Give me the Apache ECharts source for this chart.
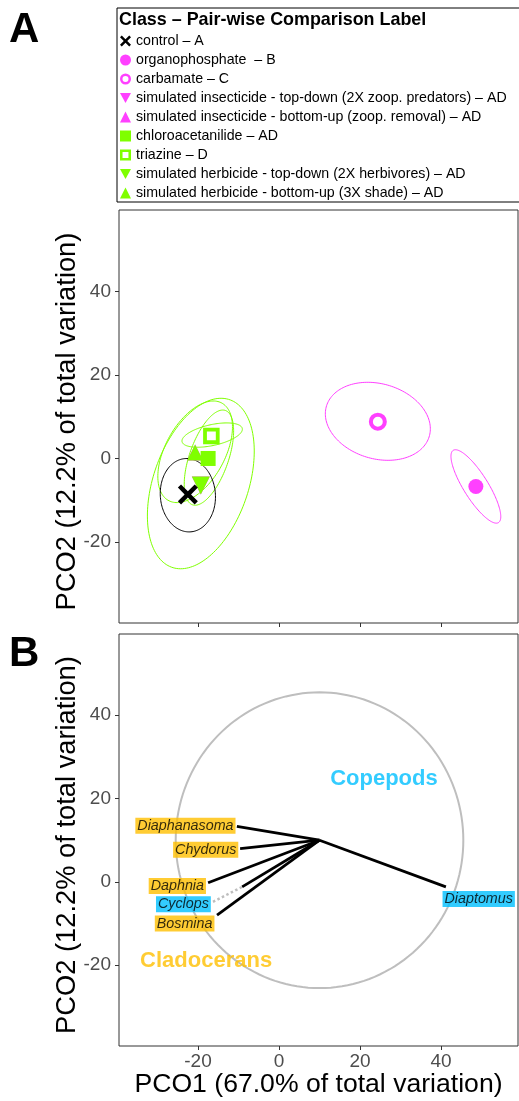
<!DOCTYPE html>
<html>
<head>
<meta charset="utf-8">
<script src="https://cdn.jsdelivr.net/npm/echarts@6/dist/echarts.min.js"></script>
<style>
html,body{margin:0;padding:0;background:#fff;}
#chart{width:519px;height:1101px;}
</style>
</head>
<body>
<div id="chart"></div>
<script>
// ---------- data ----------
const xTicks = [-20, 0, 20, 40];
const yTicks = [-20, 0, 20, 40];

const classes = [
  'control – A',
  'organophosphate  – B',
  'carbamate – C',
  'simulated insecticide - top-down (2X zoop. predators) – AD',
  'simulated insecticide - bottom-up (zoop. removal) – AD',
  'chloroacetanilide – AD',
  'triazine – D',
  'simulated herbicide - top-down (2X herbivores) – AD',
  'simulated herbicide - bottom-up (3X shade) – AD'
];
const centroidX = [-22.5, 48.6, 24.4, -19.3, -20.7, -17.5, -16.7, -19.3, -20.7];
const centroidY = [-8.6, -6.7, 8.8, -6.5, 1.4, 0.0, 5.4, -6.5, 1.4];

// confidence ellipses: class index, centre, semi-axes, rotation (deg)
const ellipseClass = [7, 8, 5, 6, 0, 2, 1];
const ellipseCX = [-19.3, -20.7, -17.3, -16.5, -22.5, 24.4, 48.6];
const ellipseCY = [-6.0, 1.6, 0.2, 5.6, -8.8, 8.9, -6.7];
const ellipseA = [21.3, 13.4, 12.0, 7.6, 8.8, 13.2, 10.3];
const ellipseB = [11.7, 7.3, 4.8, 2.5, 6.8, 9.0, 3.0];
const ellipseAngle = [70, 60, 70, 12, 95, -15, -57];

// panel B: species vectors
const species = ['Diaptomus', 'Diaphanasoma', 'Chydorus', 'Daphnia', 'Cyclops', 'Bosmina'];
const speciesGroup = ['Copepods', 'Cladocerans', 'Cladocerans', 'Cladocerans', 'Copepods', 'Cladocerans'];
const vectorOrigin = [10, 10];
const vectorX = [41.2, -10.4, -9.6, -17.5, -9.1, -15.3];
const vectorY = [-1.2, 13.3, 8.0, -0.2, -1.2, -8.0];
const labelX = [49.3, -23.1, -18.1, -25.1, -23.6, -23.3];
const labelY = [-4.1, 13.5, 7.7, -1.0, -5.4, -10.0];
const connectorFrom = [[-16.3, -4.8]];
const connectorTo = [[-9.1, -1.2]];
const circleCenter = [10, 10];
const circleRadius = 35.5;
const groupNames = ['Copepods', 'Cladocerans'];
const groupX = [25.9, -18.0];
const groupY = [24.6, -19.0];

// ---------- styles ----------
const MAG = '#FF40FF', GRN = '#7FFF00';
const xPath = 'path://M1.6,0 L5,3.4 L8.4,0 L10,1.6 L6.6,5 L10,8.4 L8.4,10 L5,6.6 L1.6,10 L0,8.4 L3.4,5 L0,1.6 Z';
const downTri = 'path://M0,0 L10,0 L5,9 Z';
const ringPath = 'path://M5,0 A5,5 0 1,1 5,10 A5,5 0 1,1 5,0 Z M5,2.25 A2.75,2.75 0 1,0 5,7.75 A2.75,2.75 0 1,0 5,2.25 Z';
const openSq = 'path://M0,0 L10,0 L10,10 L0,10 Z M2.3,2.3 L2.3,7.7 L7.7,7.7 L7.7,2.3 Z';
const classStyle = [
  {symbol: xPath, color: '#000', size: 20},
  {symbol: 'circle', color: MAG, size: 15},
  {symbol: ringPath, color: MAG, size: 18},
  {symbol: downTri, color: MAG, size: 18},
  {symbol: 'triangle', color: MAG, size: 16},
  {symbol: 'rect', color: GRN, size: 15},
  {symbol: openSq, color: GRN, size: 16.5},
  {symbol: downTri, color: GRN, size: 18},
  {symbol: 'triangle', color: GRN, size: 16}
];
const groupColor = {Copepods: '#00BFFF', Cladocerans: '#FFBF00'};
const FONT = '"Liberation Sans", Arial, sans-serif';

function renderEllipse(params, api) {
  const a = api.value(2), b = api.value(3), ang = api.value(4) * Math.PI / 180;
  const col = api.value(5) < 0 ? '#BEBEBE' : classStyle[api.value(5)].color;
  const lw = api.value(5) < 0 ? 2 : 1;
  const c = api.coord([api.value(0), api.value(1)]);
  const sx = api.size([1, 0])[0], sy = api.size([0, 1])[1];
  const pts = [];
  const N = 160;
  for (let k = 0; k < N; k++) {
    const t = 2 * Math.PI * k / N;
    const dx = a * Math.cos(t) * Math.cos(ang) - b * Math.sin(t) * Math.sin(ang);
    const dy = a * Math.cos(t) * Math.sin(ang) + b * Math.sin(t) * Math.cos(ang);
    pts.push([c[0] + dx * sx, c[1] - dy * sy]);
  }
  return {type: 'polygon', shape: {points: pts}, style: {fill: 'none', stroke: col, lineWidth: lw}};
}

const chart = echarts.init(document.getElementById('chart'), null, {renderer: 'canvas'});

function mkX(idx, labels) {
  const ax = {
    type: 'value', gridIndex: idx, min: -39.5, max: 59, position: 'bottom',
    axisLine: {show: false, onZero: false},
    splitLine: {show: false},
    axisTick: {show: true, length: 4, customValues: xTicks, lineStyle: {color: '#333', width: 1}},
    axisLabel: {show: labels, customValues: xTicks, fontSize: 19, color: '#4D4D4D', margin: 6, fontFamily: FONT}
  };
  if (labels) {
    ax.name = 'PCO1 (67.0% of total variation)';
    ax.nameLocation = 'middle';
    ax.nameGap = 25;
    ax.nameMoveOverlap = false;
    ax.nameTextStyle = {fontSize: 26.6, color: '#000', fontFamily: FONT};
  }
  return ax;
}
function mkY(idx) {
  return {
    type: 'value', gridIndex: idx, min: -39.4, max: 59.5, position: 'left',
    axisLine: {show: false, onZero: false},
    splitLine: {show: false},
    axisTick: {show: true, length: 4, customValues: yTicks, lineStyle: {color: '#333', width: 1}},
    axisLabel: {customValues: yTicks, fontSize: 19, color: '#4D4D4D', margin: 8, fontFamily: FONT},
    name: 'PCO2 (12.2% of total variation)',
    nameLocation: 'middle', nameGap: 38, nameMoveOverlap: false,
    nameTextStyle: {fontSize: 27.3, color: '#000', fontFamily: FONT, padding: [0, 10, 0, 0]}
  };
}

const series = [];
// panel A ellipses
series.push({
  type: 'custom', xAxisIndex: 0, yAxisIndex: 0, silent: true, z: 1,
  renderItem: renderEllipse,
  data: ellipseCX.map((v, i) => [v, ellipseCY[i], ellipseA[i], ellipseB[i], ellipseAngle[i], ellipseClass[i]])
});
// panel A centroids (draw order: hidden ones first, control last)
const drawOrder = [3, 4, 1, 2, 6, 5, 8, 7, 0];
drawOrder.forEach((i, k) => {
  const st = classStyle[i];
  series.push({
    type: 'scatter', name: classes[i], xAxisIndex: 0, yAxisIndex: 0, z: 3 + k,
    symbol: st.symbol, symbolSize: st.size, symbolKeepAspect: false,
    itemStyle: {color: st.color, borderWidth: 0, opacity: 1},
    emphasis: {disabled: true},
    data: [[centroidX[i], centroidY[i]]]
  });
});
// panel B circle
series.push({
  type: 'custom', xAxisIndex: 1, yAxisIndex: 1, silent: true, z: 1,
  renderItem: renderEllipse,
  data: [[circleCenter[0], circleCenter[1], circleRadius, circleRadius, 0, -1]]
});
// vectors
series.push({
  type: 'lines', coordinateSystem: 'cartesian2d', xAxisIndex: 1, yAxisIndex: 1, z: 2,
  lineStyle: {color: '#000', width: 2.8, opacity: 1, curveness: 0},
  data: species.map((s, i) => ({coords: [vectorOrigin, [vectorX[i], vectorY[i]]]}))
});
// label connector
series.push({
  type: 'lines', coordinateSystem: 'cartesian2d', xAxisIndex: 1, yAxisIndex: 1, z: 2,
  lineStyle: {color: '#BEBEBE', width: 2.5, type: [2.5, 2.5], opacity: 1, curveness: 0},
  data: connectorFrom.map((p, i) => ({coords: [p, connectorTo[i]]}))
});
// species labels
series.push({
  type: 'scatter', xAxisIndex: 1, yAxisIndex: 1, z: 5, symbolSize: 1,
  itemStyle: {color: 'rgba(0,0,0,0)'},
  label: {show: true, position: 'inside', formatter: '{b}', fontStyle: 'italic', fontSize: 14.3,
    lineHeight: 14, color: '#000', padding: [1, 2, 1, 2], fontFamily: FONT},
  data: species.map((s, i) => ({name: s, value: [labelX[i], labelY[i]],
    label: {backgroundColor: groupColor[speciesGroup[i]]}}))
});
// group labels
series.push({
  type: 'scatter', xAxisIndex: 1, yAxisIndex: 1, z: 5, symbolSize: 1,
  itemStyle: {color: 'rgba(0,0,0,0)'},
  label: {show: true, position: 'inside', formatter: '{b}', fontWeight: 'bold', fontSize: 22, fontFamily: FONT},
  data: groupNames.map((g, i) => ({name: g, value: [groupX[i], groupY[i]], label: {color: groupColor[g]}}))
});

chart.setOption({
  animation: false,
  textStyle: {fontFamily: FONT},
  title: [
    {text: 'A', left: 9, top: 9, padding: 0, textStyle: {fontSize: 42, fontWeight: 'bold', color: '#000', fontFamily: FONT}},
    {text: 'B', left: 9, top: 633, padding: 0, textStyle: {fontSize: 42, fontWeight: 'bold', color: '#000', fontFamily: FONT}},
    {text: 'Class – Pair-wise Comparison Label', left: 119, top: 11, padding: 0,
     textStyle: {fontSize: 17.9, fontWeight: 'bold', color: '#000', fontFamily: FONT}}
  ],
  legend: {
    orient: 'vertical', left: 117, top: 8, padding: [26, 14, 2, 3],
    borderColor: '#000', borderWidth: 1, itemGap: 5, itemWidth: 11, itemHeight: 11,
    selectedMode: false,
    textStyle: {fontSize: 14.2, lineHeight: 14, color: '#000', fontFamily: FONT},
    data: classes.map((n, i) => ({name: n, icon: classStyle[i].symbol, itemStyle: {borderWidth: 0}}))
  },
  grid: [
    {left: 119, top: 210, width: 399, height: 413, show: true, borderColor: '#333', borderWidth: 1, backgroundColor: '#fff'},
    {left: 119, top: 634, width: 399, height: 412, show: true, borderColor: '#333', borderWidth: 1, backgroundColor: '#fff'}
  ],
  xAxis: [mkX(0, false), mkX(1, true)],
  yAxis: [mkY(0), mkY(1)],
  series: series
});
</script>
</body>
</html>
